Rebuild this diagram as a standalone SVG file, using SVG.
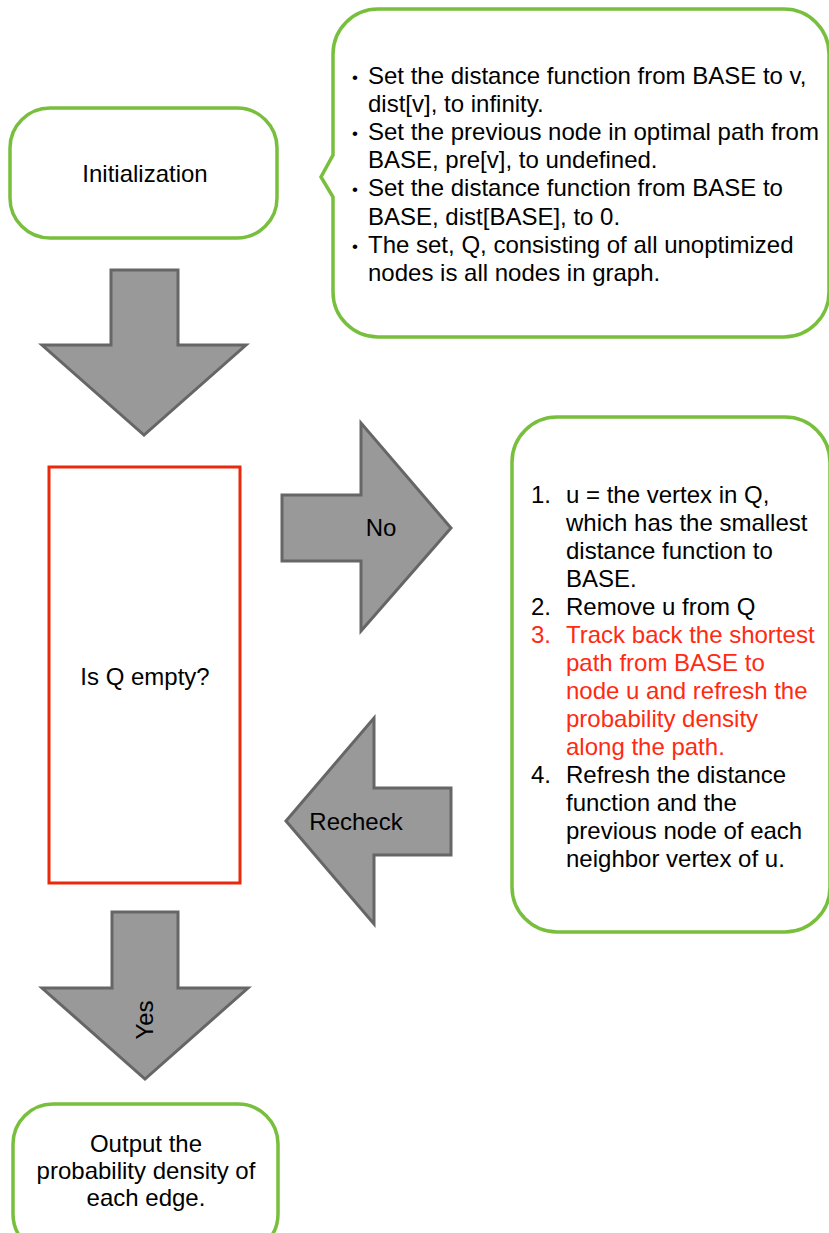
<svg xmlns="http://www.w3.org/2000/svg" width="829" height="1233" viewBox="0 0 829 1233">
<style>
text{font-family:"Liberation Sans",Arial,Helvetica,sans-serif;font-size:24px;fill:#000}
.g{fill:#fff;stroke:#78bf3d;stroke-width:3.5}
.r{fill:#fff;stroke:#e8290b;stroke-width:3}
.a{fill:#999;stroke:#666;stroke-width:3;stroke-linejoin:miter}
.c{text-anchor:middle}
.red{fill:#ff2a12}
.b{font-size:17px}
</style>
<rect width="829" height="1233" fill="#fff"/>
<g id="connectors">
<polygon class="a" points="111,270 178,270 178,345 246,345 144,435 42,345 111,345"/>
<polygon class="a" points="282,495 361,495 361,423 451,528 361,631 361,561 282,561"/>
<text class="c" x="381" y="536">No</text>
<polygon class="a" points="451,788 374,788 374,718 286,821 374,924 374,855 451,855"/>
<text class="c" x="356" y="830">Recheck</text>
<polygon class="a" points="112,912 178,912 178,988 248,988 145,1079 42,988 112,988"/>
<text class="c" transform="translate(145,1020) rotate(-90)" x="0" y="8">Yes</text>
</g>
<g id="init">
<rect class="g" x="10" y="108" width="267" height="130" rx="40"/>
<text class="c" x="145" y="182">Initialization</text>
</g>
<g id="init-note">
<path class="g" d="M378 9 H784 A45 45 0 0 1 829 54 V292 A45 45 0 0 1 784 337 H378 A45 45 0 0 1 333 292 V197 L321 177 L333 155 V54 A45 45 0 0 1 378 9 Z"/>
<text class="b" x="352" y="83">•</text>
<text x="368" y="84">Set the distance function from BASE to v,</text>
<text x="368" y="112">dist[v], to infinity.</text>
<text class="b" x="352" y="139">•</text>
<text x="368" y="140">Set the previous node in optimal path from</text>
<text x="368" y="168">BASE, pre[v], to undefined.</text>
<text class="b" x="352" y="195">•</text>
<text x="368" y="196">Set the distance function from BASE to</text>
<text x="368" y="225">BASE, dist[BASE], to 0.</text>
<text class="b" x="352" y="252">•</text>
<text x="368" y="253">The set, Q, consisting of all unoptimized</text>
<text x="368" y="281">nodes is all nodes in graph.</text>
</g>
<g id="check">
<rect class="r" x="49" y="467" width="191" height="416"/>
<text class="c" x="145" y="685">Is Q empty?</text>
</g>
<g id="loop">
<rect class="g" x="512" y="417" width="318" height="515" rx="45"/>
<text x="531" y="503">1.</text>
<text x="566" y="503">u = the vertex in Q,</text>
<text x="566" y="531">which has the smallest</text>
<text x="566" y="559">distance function to</text>
<text x="566" y="587">BASE.</text>
<text x="531" y="615">2.</text>
<text x="566" y="615">Remove u from Q</text>
<text class="red" x="531" y="643">3.</text>
<text class="red" x="566" y="643">Track back the shortest</text>
<text class="red" x="566" y="671">path from BASE to</text>
<text class="red" x="566" y="699">node u and refresh the</text>
<text class="red" x="566" y="727">probability density</text>
<text class="red" x="566" y="755">along the path.</text>
<text x="531" y="783">4.</text>
<text x="566" y="783">Refresh the distance</text>
<text x="566" y="811">function and the</text>
<text x="566" y="839">previous node of each</text>
<text x="566" y="867">neighbor vertex of u.</text>
</g>
<g id="output">
<rect class="g" x="13" y="1104" width="265" height="150" rx="40"/>
<text class="c" x="146" y="1152">Output the</text>
<text class="c" x="146" y="1179">probability density of</text>
<text class="c" x="146" y="1206">each edge.</text>
</g>
</svg>
